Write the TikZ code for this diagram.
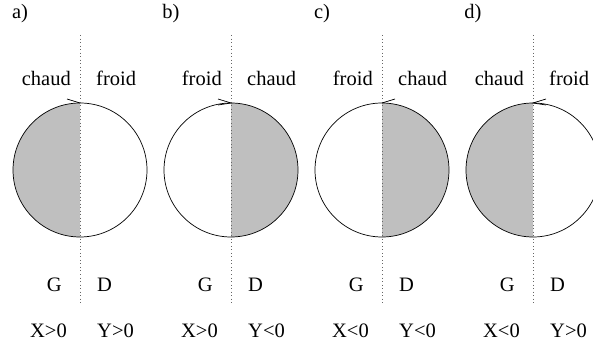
\documentclass[tikz,border=0pt]{standalone}
\usepackage{fontspec}
\setmainfont{Liberation Serif}
\usetikzlibrary{calc}
\begin{document}
\begin{tikzpicture}[x=0.03cm,y=-0.03cm,
  lbl/.style={inner sep=0pt, font=\fontsize{17.5}{20}\selectfont},
  circ/.style={line width=0.6pt},
  axisline/.style={black!60, line width=0.7pt, dash pattern=on 0.8pt off 2.2pt},
  half/.style={fill=black!25, draw=none},
  barb/.style={line width=0.6pt}]
\useasboundingbox (0,0) rectangle (593,345);
\clip (0,0) rectangle (593,345);
\foreach \i/\t/\l/\r/\xl/\yr/\s in {0/a/chaud/froid/X>0/Y>0/1, 1/b/froid/chaud/X>0/Y<0/-1, 2/c/froid/chaud/X<0/Y<0/-1, 3/d/chaud/froid/X<0/Y>0/1} {
  \pgfmathsetmacro\cx{80+151*\i}
  \pgfmathsetmacro\st{90+180*\s}
  \coordinate (c\i) at (\cx,170);
  \coordinate (top\i) at (\cx,103);
  \coordinate (ax\i a) at (\cx,35);
  \coordinate (ax\i b) at (\cx,305);
  \fill[half] (top\i) arc[start angle=\st, end angle=90, radius=67] -- cycle;
  \draw[circ] (c\i) circle[radius=67];
  \draw[axisline] (ax\i a) -- (ax\i b);
  \node[lbl, anchor=base] (tag\i) at (\cx-60,19) {\t)};
  \node[lbl, anchor=base east] (hl\i) at (\cx-9,86) {\l};
  \node[lbl, anchor=base west] (hr\i) at (\cx+16,86) {\r};
  \node[lbl, anchor=base east] (g\i) at (\cx-18,291) {G};
  \node[lbl, anchor=base west] (d\i) at (\cx+17,291) {D};
  \node[lbl, anchor=base east] (x\i) at (\cx-13,337) {\xl};
  \node[lbl, anchor=base west] (y\i) at (\cx+17,337) {\yr};
}
% direction marks at the top of each circle
\draw[barb] (top0) -- ++(-13,-4);
\draw[barb] ($(top1)+(-13,-4)$) -- (top1) -- ++(-13,2);
\draw[barb] (top2) -- ++(13,-4);
\draw[barb] ($(top3)+(13,-4)$) -- (top3) -- ++(13,2);
\end{tikzpicture}
\end{document}
